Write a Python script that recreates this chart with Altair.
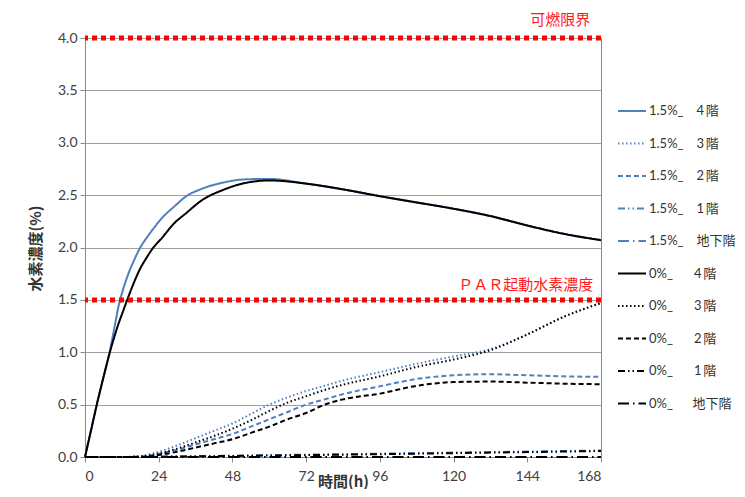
import altair as alt
import pandas as pd

# ---- data ----
T_UP = [0, 2, 4, 6, 8, 10, 11, 12, 14, 16, 18, 20, 22, 25, 29, 33, 38, 45, 52, 60,
        72, 84, 96, 108, 120, 132, 144, 156, 168]
S15_F4 = [0, 0.26, 0.52, 0.76, 1.0, 1.3, 1.45, 1.56, 1.74, 1.88, 2.0, 2.09, 2.17, 2.28, 2.39,
          2.49, 2.56, 2.62, 2.65, 2.655, 2.61, 2.555, 2.49, 2.43, 2.37, 2.3, 2.21, 2.13, 2.07]
S0_F4 = [0, 0.26, 0.52, 0.76, 0.99, 1.19, 1.28, 1.36, 1.52, 1.67, 1.8, 1.9, 1.99, 2.09, 2.23,
         2.33, 2.45, 2.55, 2.615, 2.64, 2.61, 2.555, 2.49, 2.43, 2.37, 2.3, 2.21, 2.13, 2.07]

T_LOW = [0, 12, 18, 24, 30, 36, 42, 48, 54, 60, 66, 72, 78, 84, 96, 108, 120, 132, 144, 156, 168]
S15_F3 = [0, 0, 0.01, 0.05, 0.11, 0.18, 0.25, 0.32, 0.41, 0.5, 0.57, 0.63, 0.68, 0.73, 0.81,
          0.89, 0.96, 1.03, 1.17, 1.34, 1.47]
S0_F3 = [0, 0, 0.005, 0.03, 0.08, 0.14, 0.2, 0.27, 0.35, 0.44, 0.52, 0.58, 0.64, 0.69, 0.77,
         0.86, 0.93, 1.02, 1.17, 1.34, 1.47]
S15_F2 = [0, 0, 0.005, 0.03, 0.07, 0.12, 0.17, 0.22, 0.29, 0.36, 0.43, 0.5, 0.55, 0.6, 0.675,
          0.745, 0.78, 0.79, 0.78, 0.77, 0.765]
S0_F2 = [0, 0, 0, 0.02, 0.05, 0.09, 0.13, 0.17, 0.23, 0.29, 0.36, 0.42, 0.5, 0.55, 0.605,
         0.68, 0.715, 0.72, 0.71, 0.70, 0.695]
S15_F1 = [0, 0, 0, 0.005, 0.005, 0.008, 0.01, 0.012, 0.015, 0.018, 0.02, 0.022, 0.025, 0.027,
          0.032, 0.037, 0.042, 0.047, 0.052, 0.057, 0.062]
S0_F1 = [0, 0, 0, 0.003, 0.004, 0.006, 0.008, 0.01, 0.012, 0.014, 0.016, 0.018, 0.02, 0.022,
         0.027, 0.032, 0.037, 0.042, 0.047, 0.052, 0.057]
S15_B1 = [0, 0, 0, 0, 0, 0, 0, 0, 0, 0, 0, 0, 0, 0, 0, 0, 0, 0, 0, 0, 0]
S0_B1 = [0, 0, 0, 0, 0, 0, 0, 0, 0, 0, 0, 0, 0, 0, 0, 0, 0, 0, 0, 0, 0]

SP = "\u2002"
TH = "\u2009"
NAMES = [
    "1.5%_" + SP * 2 + "4" + TH + "階",
    "1.5%_" + SP * 2 + "3" + TH + "階",
    "1.5%_" + SP * 2 + "2" + TH + "階",
    "1.5%_" + SP * 2 + "1" + TH + "階",
    "1.5%_" + SP * 2 + "地下階",
    "0%_" + SP * 3 + TH + "4" + TH + "階",
    "0%_" + SP * 3 + TH + "3" + TH + "階",
    "0%_" + SP * 3 + TH + "2" + TH + "階",
    "0%_" + SP * 3 + TH + "1" + TH + "階",
    "0%_" + SP * 3 + "地下階",
]
SERIES = [
    (NAMES[0], T_UP, S15_F4), (NAMES[1], T_LOW, S15_F3), (NAMES[2], T_LOW, S15_F2),
    (NAMES[3], T_LOW, S15_F1), (NAMES[4], T_LOW, S15_B1),
    (NAMES[5], T_UP, S0_F4), (NAMES[6], T_LOW, S0_F3), (NAMES[7], T_LOW, S0_F2),
    (NAMES[8], T_LOW, S0_F1), (NAMES[9], T_LOW, S0_B1),
]
BLUE = "#4f81bd"
COLORS = [BLUE] * 5 + ["#000000"] * 5
DASHES = [[1, 0], [1.5, 2.5], [5, 3], [7, 3, 1.5, 3, 1.5, 3], [11, 4, 1.5, 4]] * 2

LIMIT_VALUES = [4.0, 1.5]
ANNOT_TEXT = ["可燃限界", "ＰＡＲ起動水素濃度"]
ANNOT_X = [164.5, 165.5]

X_TICKS = [0, 24, 48, 72, 96, 120, 144, 168]
Y_TICKS = [0, 0.5, 1.0, 1.5, 2.0, 2.5, 3.0, 3.5, 4.0]

rows = []
for name, ts, vs in SERIES:
    for t, v in zip(ts, vs):
        rows.append({"series": name, "time": t, "value": v})
df = pd.DataFrame(rows)

FONT_NUM = "Lato, 'Noto Sans CJK JP'"
FONT_CJK = "'Noto Sans CJK JP'"

x_enc = alt.X("time:Q", scale=alt.Scale(domain=[0, 168], nice=False),
              axis=alt.Axis(values=X_TICKS, title="時間(h)", grid=False, tickSize=5,
                            tickColor="#888888", domainColor="#888888",
                            labelFontSize=14, labelColor="#404040", labelFont=FONT_NUM,
                            labelPadding=7, titleFont=FONT_CJK, titleFontSize=15,
                            titleFontWeight="bold", titleColor="#333333",
                            titleY=17, titleBaseline="top", titleX=258))
y_enc = alt.Y("value:Q", scale=alt.Scale(domain=[0, 4], nice=False),
              axis=alt.Axis(values=Y_TICKS, format=".1f", title="水素濃度(%)", grid=True,
                            gridColor="#a0a0a0", tickSize=5, tickColor="#888888",
                            domainColor="#888888", labelFontSize=14, labelColor="#404040",
                            labelFont=FONT_NUM, labelPadding=3, titleFont=FONT_CJK,
                            titleFontSize=15, titleFontWeight="bold", titleColor="#333333",
                            titleX=-50, titleY=210, titleAngle=-90, titleAlign="center",
                            titleBaseline="middle"))

legend_cfg = dict(title=None, orient="none", legendX=532, legendY=58,
                  symbolType="stroke", symbolSize=784, symbolStrokeWidth=2,
                  labelFontSize=13, labelFont=FONT_NUM, labelColor="#333333",
                  labelOffset=2, rowPadding=10.5, padding=0, labelLimit=200)

lines = alt.Chart(df).mark_line(strokeWidth=2, interpolate="monotone").encode(
    x=x_enc,
    y=y_enc,
    color=alt.Color("series:N", scale=alt.Scale(domain=NAMES, range=COLORS),
                    legend=alt.Legend(**legend_cfg)),
    strokeDash=alt.StrokeDash("series:N", scale=alt.Scale(domain=NAMES, range=DASHES),
                              legend=alt.Legend(**legend_cfg)),
)

limits_df = pd.DataFrame({"v": LIMIT_VALUES})
rules = alt.Chart(limits_df).mark_rule(color="#ff0000", strokeWidth=5, strokeDash=[5, 4]).encode(
    y=alt.Y("v:Q"))

annot_df = pd.DataFrame({"t": ANNOT_TEXT, "x": ANNOT_X, "v": LIMIT_VALUES})
text1 = alt.Chart(annot_df.iloc[[0]]).mark_text(
    align="right", baseline="middle", dy=-18, fontSize=15, color="#ff1a1a", font=FONT_CJK
).encode(x="x:Q", y="v:Q", text="t:N")
text2 = alt.Chart(annot_df.iloc[[1]]).mark_text(
    align="right", baseline="middle", dy=-15, fontSize=15, color="#ff1a1a", font=FONT_CJK
).encode(x="x:Q", y="v:Q", text="t:N")

chart = alt.layer(lines, rules, text1, text2).properties(
    width=516, height=419,
    autosize=alt.AutoSizeParams(type="none"),
    padding={"left": 77, "top": 30, "right": 136, "bottom": 32},
    background="white",
).configure_view(stroke="#888888", strokeWidth=1)

chart.save("out.html", embed_options={"renderer": "svg", "actions": False})
